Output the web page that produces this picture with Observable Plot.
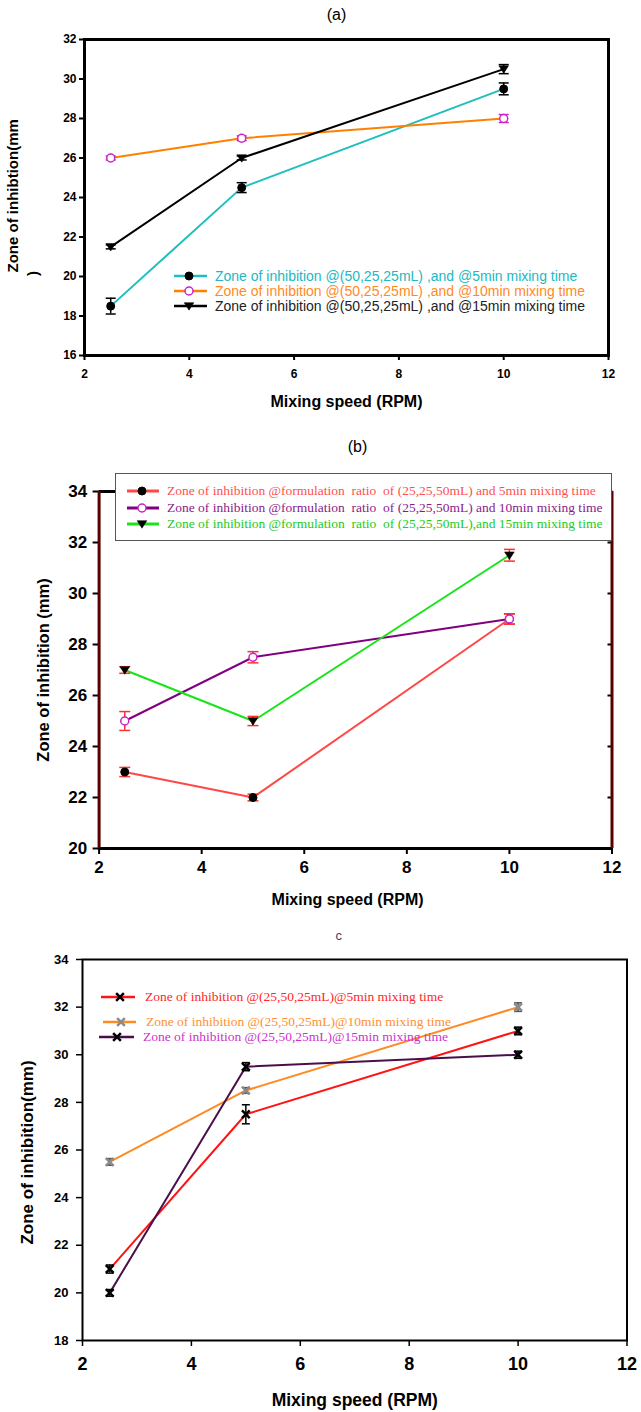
<!DOCTYPE html>
<html>
<head>
<meta charset="utf-8">
<script src="https://cdn.jsdelivr.net/npm/d3@7"></script>
<script src="https://cdn.jsdelivr.net/npm/@observablehq/plot@0.6"></script>
<style>
  body { margin: 0; background: #fff; }
  #root { position: relative; width: 641px; height: 1412px; background: #fff; overflow: hidden; }
  .leg { position: absolute; display: flex; align-items: center; white-space: pre; line-height: 1; }
  .leg svg { display: block; flex: none; }
  .box { position: absolute; background: #fff; border: 1px solid #555; box-sizing: border-box; }
</style>
</head>
<body>
<div id="root"></div>
<script>
// ---------------- DATA ----------------
const speeds = [2.5, 5, 10];
const xTicks = [2, 4, 6, 8, 10, 12];

// Panel (a)
const aYTicks = [16, 18, 20, 22, 24, 26, 28, 30, 32];
const aLabels = [
  "Zone of inhibition @(50,25,25mL) ,and @5min mixing time",
  "Zone of inhibition @(50,25,25mL) ,and @10min mixing time",
  "Zone of inhibition @(50,25,25mL) ,and @15min mixing time"
];
const aMix5 = [18.5, 24.5, 29.5];
const aMix5Err = [0.4, 0.25, 0.3];
const aMix10 = [26, 27, 28];
const aMix10Err = [0.1, 0.12, 0.2];
const aMix15 = [21.5, 26, 30.5];
const aMix15Err = [0.1, 0.1, 0.23];

// Panel (b)
const bYTicks = [20, 22, 24, 26, 28, 30, 32, 34];
const bLabels = [
  "Zone of inhibition @formulation  ratio  of (25,25,50mL) and 5min mixing time",
  "Zone of inhibition @formulation  ratio  of (25,25,50mL) and 10min mixing time",
  "Zone of inhibition @formulation  ratio  of (25,25,50mL),and 15min mixing time"
];
const bMix5 = [23, 22, 29];
const bMix5Err = [0.18, 0.13, 0.2];
const bMix10 = [25, 27.5, 29];
const bMix10Err = [0.37, 0.22, 0.2];
const bMix15 = [27, 25, 31.5];
const bMix15Err = [0.13, 0.18, 0.23];

// Panel (c)
const cYTicks = [18, 20, 22, 24, 26, 28, 30, 32, 34];
const cLabels = [
  "Zone of inhibition @(25,50,25mL)@5min mixing time",
  "Zone of inhibition @(25,50,25mL)@10min mixing time",
  "Zone of inhibition @(25,50,25mL)@15min mixing time"
];
const cMix5 = [21, 27.5, 31];
const cMix5Err = [0.17, 0.4, 0.16];
const cMix10 = [25.5, 28.5, 32];
const cMix10Err = [0.14, 0.12, 0.18];
const cMix15 = [20, 29.5, 30];
const cMix15Err = [0.14, 0.17, 0.15];

// ---------------- HELPERS ----------------
const rows = (values, errors) => speeds.map((x, i) => ({x, y: values[i], e: errors[i]}));
const hline = {draw(ctx, size) { const r = Math.sqrt(size / Math.PI); ctx.moveTo(-r, 0); ctx.lineTo(r, 0); }};
const triDown = {draw(ctx, size) { const r = Math.sqrt(size / Math.PI); ctx.moveTo(-r * 1.15, -r * 0.8); ctx.lineTo(r * 1.15, -r * 0.8); ctx.lineTo(0, r * 1.0); ctx.closePath(); }};

const sans = "'Liberation Sans', Arial, sans-serif";
const serif = "'Liberation Serif', 'Times New Roman', serif";

function seriesMarks(s) {
  const d = rows(s.values, s.errors);
  return [
    Plot.line(d, {x: "x", y: "y", stroke: s.line, strokeWidth: s.lineWidth ?? 2}),
    Plot.ruleX(d, {x: "x", y1: r => r.y - r.e, y2: r => r.y + r.e, stroke: s.err, strokeWidth: 1.5}),
    Plot.dot(d, {x: "x", y: r => r.y - r.e, symbol: hline, r: s.cap, fill: "none", stroke: s.err, strokeWidth: 1.5}),
    Plot.dot(d, {x: "x", y: r => r.y + r.e, symbol: hline, r: s.cap, fill: "none", stroke: s.err, strokeWidth: 1.5})
  ];
}
function markerMark(s) {
  const d = rows(s.values, s.errors);
  return Plot.dot(d, {x: "x", y: "y", symbol: s.symbol, r: s.r, fill: s.fill, stroke: s.stroke, strokeWidth: s.sw});
}
function txt(t, o) {
  return Plot.text([t], {text: d => d, textAnchor: "middle", lineAnchor: "middle", fill: "black", ...o});
}

const root = document.getElementById("root");

function legendRow({x0, x1, mx, tx, y, s, text, color, font, size}) {
  const row = document.createElement("div");
  row.className = "leg";
  row.style.left = x0 + "px";
  row.style.top = (y - 9) + "px";
  row.style.height = "18px";
  const w = x1 - x0;
  const svg = d3.create("svg").attr("width", w).attr("height", 18);
  svg.append("line").attr("x1", 0).attr("x2", w).attr("y1", 9).attr("y2", 9)
    .attr("stroke", s.line).attr("stroke-width", s.lineWidth ?? 2.5);
  const sym = typeof s.symbol === "string" ? {circle: d3.symbolCircle, times: d3.symbolTimes}[s.symbol] : s.symbol;
  svg.append("path").attr("transform", `translate(${mx - x0},9)`)
    .attr("d", d3.symbol(sym, s.r * s.r * Math.PI)())
    .attr("fill", s.fill).attr("stroke", s.stroke).attr("stroke-width", s.sw);
  row.appendChild(svg.node());
  const span = document.createElement("span");
  span.textContent = text;
  span.style.marginLeft = (tx - x1) + "px";
  span.style.color = color;
  span.style.fontFamily = font;
  span.style.fontSize = size + "px";
  row.appendChild(span);
  root.appendChild(row);
}

// ---------------- PANEL (a) ----------------
const aSeries = [
  {values: aMix5, errors: aMix5Err, line: "#1ebebe", err: "black", cap: 5, symbol: "circle", r: 4, fill: "black", stroke: "black", sw: 1, text: "#22b8c2"},
  {values: aMix10, errors: aMix10Err, line: "#ff8000", err: "#cc22cc", cap: 5, symbol: "circle", r: 4, fill: "white", stroke: "#cc22cc", sw: 1.5, text: "#ff8a1f"},
  {values: aMix15, errors: aMix15Err, line: "black", err: "black", cap: 5, symbol: triDown, r: 4.2, fill: "black", stroke: "black", sw: 0.5, text: "#222"}
];
const A = {top: 0, h: 425, ml: 84, mr: 33, mt: 39, mb: 70};
const plotA = Plot.plot({
  width: 641, height: A.h, marginLeft: A.ml, marginRight: A.mr, marginTop: A.mt, marginBottom: A.mb,
  x: {domain: [2, 12], label: null}, y: {domain: [16, 32], label: null},
  style: {position: "absolute", top: A.top + "px", left: "0px", fontFamily: sans, background: "transparent", overflow: "visible", color: "black"},
  marks: [
    Plot.axisX({ticks: xTicks, tickSize: 5, tickPadding: 9, fontSize: 12, fontWeight: "bold", strokeWidth: 2, label: null}),
    Plot.axisY({ticks: aYTicks, tickSize: 5, tickPadding: 3, fontSize: 12, fontWeight: "bold", strokeWidth: 2, label: null}),
    ...aSeries.flatMap(seriesMarks),
    ...aSeries.map(markerMark),
    Plot.frame({stroke: "black", strokeWidth: 3}),
    txt("(a)", {frameAnchor: "top", dx: -10, dy: -25, fontSize: 16}),
    txt("Mixing speed (RPM)", {frameAnchor: "bottom", dy: 46, fontSize: 16, fontWeight: "bold"}),
    txt("Zone of inhibtion(mm", {frameAnchor: "top-left", textAnchor: "start", dx: 13 - A.ml, dy: 272 - A.mt, rotate: -90, fontSize: 15, fontWeight: "bold"}),
    txt(")", {frameAnchor: "top-left", dx: 33 - A.ml, dy: 273 - A.mt, rotate: -90, fontSize: 15, fontWeight: "bold"})
  ]
});
root.appendChild(plotA);
const aRowsY = [276, 291, 306];
aSeries.forEach((s, i) => legendRow({x0: 174, x1: 207, mx: 189, tx: 215, y: aRowsY[i], s, text: aLabels[i], color: s.text, font: sans, size: 14}));

// ---------------- PANEL (b) ----------------
const bSeries = [
  {values: bMix5, errors: bMix5Err, line: "#ff4747", err: "#ff3030", cap: 5.5, symbol: "circle", r: 4, fill: "black", stroke: "black", sw: 1, text: "#ff4f4f"},
  {values: bMix10, errors: bMix10Err, line: "#800080", err: "#ff3030", cap: 5.5, symbol: "circle", r: 4, fill: "white", stroke: "#cc22cc", sw: 1.5, text: "#8b1a8b"},
  {values: bMix15, errors: bMix15Err, line: "#18e418", err: "#ff3030", cap: 5.5, symbol: triDown, r: 4.2, fill: "black", stroke: "black", sw: 0.5, text: "#22cc22"}
];
const B = {top: 425, h: 490, ml: 98.6, mr: 29.5, mt: 66, mb: 67};
const plotB = Plot.plot({
  width: 641, height: B.h, marginLeft: B.ml, marginRight: B.mr, marginTop: B.mt, marginBottom: B.mb,
  x: {domain: [2, 12], label: null}, y: {domain: [20, 34], label: null},
  style: {position: "absolute", top: B.top + "px", left: "0px", fontFamily: sans, background: "transparent", overflow: "visible", color: "black"},
  marks: [
    Plot.axisX({ticks: xTicks, tickSize: 6, tickPadding: 6, fontSize: 17, fontWeight: "bold", strokeWidth: 2, label: null}),
    Plot.axisY({ticks: bYTicks, tickSize: 6, tickPadding: 6, fontSize: 17, fontWeight: "bold", strokeWidth: 2, label: null}),
    Plot.axisY({anchor: "right", ticks: bYTicks, tickSize: 5, tickPadding: 0, dx: -5, tickFormat: () => "", strokeWidth: 2, label: null}),
    ...bSeries.flatMap(seriesMarks),
    ...bSeries.map(markerMark),
    Plot.ruleY([20, 34], {stroke: "black", strokeWidth: 3}),
    Plot.ruleX([2, 12], {stroke: "#5a0000", strokeWidth: 3}),
    txt("(b)", {frameAnchor: "top", dx: 2, dy: -45, fontSize: 16}),
    txt("Mixing speed (RPM)", {frameAnchor: "bottom", dx: -8, dy: 51, fontSize: 16, fontWeight: "bold"}),
    txt("Zone of inhibition (mm)", {frameAnchor: "left", dx: 43 - B.ml, rotate: -90, fontSize: 16.5, fontWeight: "bold"})
  ]
});
root.appendChild(plotB);
const boxB = document.createElement("div");
boxB.className = "box";
Object.assign(boxB.style, {left: "114.5px", top: "472.5px", width: "497px", height: "68px"});
root.appendChild(boxB);
const bRowsY = [491, 507.5, 523.5];
bSeries.forEach((s, i) => legendRow({x0: 127, x1: 159, mx: 142, tx: 167, y: bRowsY[i], s: {...s, lineWidth: 3}, text: bLabels[i], color: s.text, font: serif, size: 13.5}));

// ---------------- PANEL (c) ----------------
const cSeries = [
  {values: cMix5, errors: cMix5Err, line: "#ff1414", err: "black", cap: 4, symbol: "times", r: 3.6, fill: "none", stroke: "black", sw: 2.5, text: "#ff2626"},
  {values: cMix10, errors: cMix10Err, line: "#ff8a22", err: "#555", cap: 4, symbol: "times", r: 3.6, fill: "none", stroke: "#8a8a8a", sw: 2.5, text: "#ff9030"},
  {values: cMix15, errors: cMix15Err, line: "#4a0f4a", err: "black", cap: 4, symbol: "times", r: 3.6, fill: "none", stroke: "black", sw: 2.5, text: "#cc33cc"}
];
const C = {top: 915, h: 497, ml: 82, mr: 14.5, mt: 44, mb: 72};
const plotC = Plot.plot({
  width: 641, height: C.h, marginLeft: C.ml, marginRight: C.mr, marginTop: C.mt, marginBottom: C.mb,
  x: {domain: [2, 12], label: null}, y: {domain: [18, 34], label: null},
  style: {position: "absolute", top: C.top + "px", left: "0px", fontFamily: sans, background: "transparent", overflow: "visible", color: "black"},
  marks: [
    Plot.axisX({ticks: xTicks, tickSize: 6, tickPadding: 11, fontSize: 18, fontWeight: "bold", strokeWidth: 1.5, label: null}),
    Plot.axisY({ticks: cYTicks, tickSize: 6, tickPadding: 8, fontSize: 13, fontWeight: "bold", strokeWidth: 1.5, label: null}),
    ...cSeries.flatMap(seriesMarks),
    ...cSeries.map(markerMark),
    Plot.frame({stroke: "black", strokeWidth: 2}),
    txt("c", {frameAnchor: "top", dx: -16, dy: -24, fontSize: 13, fill: "#3b4763"}),
    txt("Mixing speed (RPM)", {frameAnchor: "bottom", dy: 60, fontSize: 17.5, fontWeight: "bold"}),
    txt("Zone of inhibition(mm)", {frameAnchor: "left", dx: 27 - C.ml, dy: 2.5, rotate: -90, fontSize: 17, fontWeight: "bold"})
  ]
});
root.appendChild(plotC);
const cLeg = [
  {x0: 101, x1: 135, mx: 120, tx: 145, y: 997},
  {x0: 103, x1: 136, mx: 121, tx: 146, y: 1021.5},
  {x0: 99, x1: 134, mx: 117, tx: 143, y: 1036.5}
];
cSeries.forEach((s, i) => legendRow({...cLeg[i], s: {...s, lineWidth: 2.5}, text: cLabels[i], color: s.text, font: serif, size: 13.5}));
</script>
</body>
</html>
